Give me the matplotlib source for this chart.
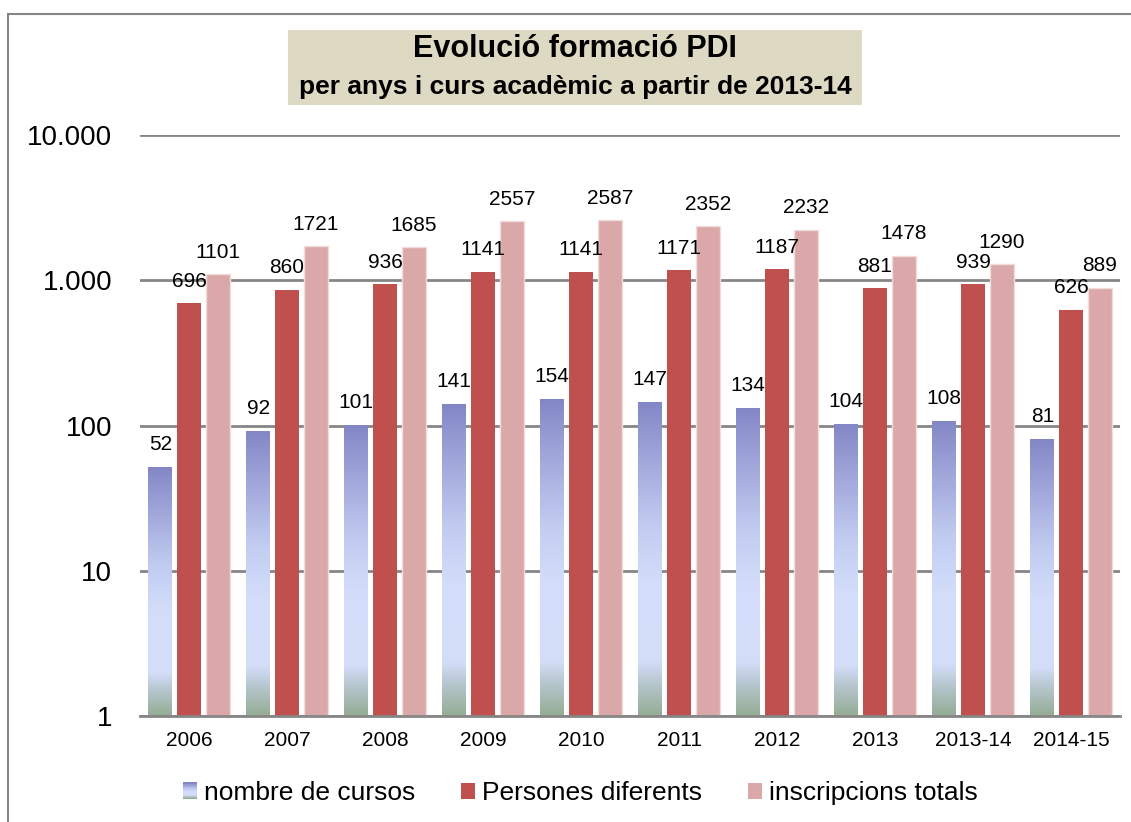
import numpy as np
import matplotlib.pyplot as plt
from matplotlib.patches import Rectangle
from matplotlib.colors import LinearSegmentedColormap
from matplotlib.legend_handler import HandlerBase
from matplotlib.ticker import FixedLocator, FuncFormatter, NullLocator
from matplotlib.transforms import blended_transform_factory

plt.rcParams['font.family'] = ['Liberation Sans', 'DejaVu Sans']

# data
categories = ['2006', '2007', '2008', '2009', '2010', '2011', '2012', '2013', '2013-14', '2014-15']
cursos = [52, 92, 101, 141, 154, 147, 134, 104, 108, 81]
persones = [696, 860, 936, 1141, 1141, 1171, 1187, 881, 939, 626]
inscripcions = [1101, 1721, 1685, 2557, 2587, 2352, 2232, 1478, 1290, 889]
series_names = ['nombre de cursos', 'Persones diferents', 'inscripcions totals']

red = '#C0504D'
pink = '#DAA8A8'
grid_col = '#868686'

# gradient used by the "nombre de cursos" bars (0 = bottom, 1 = top)
grad_cmap = LinearSegmentedColormap.from_list('cursos', [
    (0.00, '#95AD95'),
    (0.10, '#B6C6CE'),
    (0.17, '#D3DDF8'),
    (0.42, '#D3DDFA'),
    (0.60, '#C2CCF1'),
    (0.82, '#A0A6DA'),
    (1.00, '#8386C6'),
])

fig = plt.figure(figsize=(11.31, 8.22), dpi=100)

# outer chart border (runs off the right/bottom of the picture)
fig.patches.append(Rectangle((8 / 1131, -0.1), 1.2, 1 - 14 / 822 + 0.1,
                             transform=fig.transFigure, fill=False,
                             edgecolor=grid_col, linewidth=1.5, zorder=0))

ax = fig.add_axes([140 / 1131, 1 - 716 / 822, 980 / 1131, (716 - 135) / 822])

x = np.arange(len(categories))
w = 0.245
off = 0.293

ax.set_yscale('log')
ax.set_ylim(1, 10000)
ax.set_xlim(-0.5, len(categories) - 0.5)

# blue gradient bars, one gradient per bar
grad = np.linspace(0, 1, 256).reshape(-1, 1)
to_axes = ax.transAxes.inverted()
tr = blended_transform_factory(ax.transData, ax.transAxes)
for xi, v in zip(x, cursos):
    bar = ax.bar(xi - off, v, width=w, color='none', edgecolor='none', zorder=2)[0]
    x0 = xi - off - w / 2
    x1 = xi - off + w / 2
    top = to_axes.transform(ax.transData.transform((x0, v)))[1]
    bot = to_axes.transform(ax.transData.transform((x0, 1)))[1]
    im = ax.imshow(grad, cmap=grad_cmap, origin='lower', aspect='auto',
                   extent=[x0, x1, bot, top], transform=tr, zorder=2,
                   interpolation='bilinear')
    im.set_clip_path(bar)

ax.bar(x, persones, width=w, color=red, edgecolor='none', zorder=2)
ax.bar(x + off, inscripcions, width=w, color=pink, edgecolor='#F2DCDB', linewidth=1, zorder=2)
ax.set_xlim(-0.5, len(categories) - 0.5)
ax.set_ylim(1, 10000)

# value labels
for vals, dx in [(cursos, -off), (persones, 0), (inscripcions, off)]:
    for xi, v in zip(x, vals):
        ax.annotate(str(v), (xi + dx, v), xytext=(0, 9), textcoords='offset points',
                    ha='center', va='bottom', fontsize=15, zorder=5)

# axes styling
for s in ['left', 'right', 'top']:
    ax.spines[s].set_visible(False)
ax.spines['bottom'].set_color(grid_col)
ax.spines['bottom'].set_linewidth(2)
ax.yaxis.set_major_locator(FixedLocator([1, 10, 100, 1000, 10000]))
ax.yaxis.set_minor_locator(NullLocator())
ax.yaxis.set_major_formatter(FuncFormatter(lambda v, p: '{:,.0f}'.format(v).replace(',', '.')))
ax.tick_params(axis='y', length=0, pad=20, labelsize=20)
ax.set_xticks(x)
ax.set_xticklabels(categories)
ax.tick_params(axis='x', length=0, pad=11, labelsize=15)
ax.grid(axis='y', color=grid_col, linewidth=2, zorder=0)
ax.set_axisbelow(True)


# legend with a gradient swatch for the first series
class GradHandler(HandlerBase):
    def create_artists(self, legend, orig_handle, xdescent, ydescent, width, height, fontsize, trans):
        n = 20
        arts = []
        for i in range(n):
            r = Rectangle((-xdescent, -ydescent + height * i / n), width, height / n + 0.3,
                          facecolor=grad_cmap(i / (n - 1)), edgecolor='none', transform=trans)
            arts.append(r)
        return arts


h1 = Rectangle((0, 0), 1, 1)
h2 = Rectangle((0, 0), 1, 1, facecolor=red, edgecolor='none')
h3 = Rectangle((0, 0), 1, 1, facecolor=pink, edgecolor='none')
fig.legend([h1, h2, h3], series_names, handler_map={h1: GradHandler()},
           loc='center', bbox_to_anchor=(0.513, 1 - 793 / 822), ncol=3, frameon=False,
           fontsize=19, handlelength=0.53, handleheight=0.55, handletextpad=0.25,
           columnspacing=1.75, borderpad=0)

# title box
fig.patches.append(Rectangle((288 / 1131, 1 - 105 / 822), (862 - 288) / 1131, 75 / 822,
                             transform=fig.transFigure, facecolor='#DDD9C3',
                             edgecolor='none', zorder=1))
fig.text(575 / 1131, 1 - 49 / 822, 'Evolució formació PDI', ha='center', va='center',
         fontsize=22, fontweight='bold', zorder=3)
fig.text(575 / 1131, 1 - 87 / 822, 'per anys i curs acadèmic a partir de 2013-14', ha='center',
         va='center', fontsize=19, fontweight='bold', zorder=3)

fig.savefig('out.png', dpi=100)
